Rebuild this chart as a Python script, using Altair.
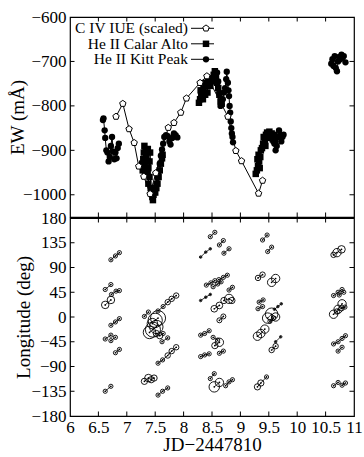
import altair as alt
import pandas as pd

FONT = "Liberation Serif"
W, H1, H2 = 284, 200, 198
TK = 4.5  # inward tick length

# ---------------- top panel data ----------------
civ_jd = [6.81, 6.93, 7.04, 7.13, 7.21, 7.30, 7.41, 7.51, 7.73, 7.83, 7.95, 8.05,
          8.29, 8.41, 8.78, 8.92, 9.02, 9.32, 9.39]
civ_ew = [-824, -795, -852, -883, -936, -959, -998, -951, -849, -838, -815, -783,
          -748, -733, -824, -901, -924, -997, -968]

caA_jd = [7.31, 7.30, 7.33, 7.29, 7.34, 7.31, 7.36, 7.33, 7.38, 7.35, 7.27, 7.28, 7.40,
          7.41, 7.37, 7.40, 7.38, 7.42, 7.44, 7.45, 7.46, 7.47, 7.48, 7.50, 7.52, 7.54,
          7.56, 7.58, 7.60, 7.62, 7.63]
caA_ew = [-890, -905, -900, -920, -915, -935, -925, -945, -940, -950, -930, -945, -925,
          -905, -897, -960, -975, -985, -995, -1005, -1012, -1000, -990, -995, -985, -975,
          -960, -945, -930, -918, -910]
caB_jd = [8.27, 8.29, 8.31, 8.30, 8.33, 8.35, 8.34, 8.37, 8.39, 8.38, 8.41, 8.43, 8.42,
          8.45, 8.47, 8.49, 8.51, 8.53, 8.55, 8.57, 8.59, 8.61, 8.63, 8.65, 8.67]
caB_ew = [-793, -785, -775, -765, -770, -760, -785, -755, -748, -775, -755, -745, -770,
          -740, -755, -745, -738, -730, -722, -735, -748, -760, -775, -790, -795]
caC_jd = [9.27, 9.29, 9.31, 9.30, 9.33, 9.32, 9.35, 9.34, 9.36, 9.38, 9.40, 9.41,
          9.43, 9.45, 9.44, 9.47, 9.49, 9.51, 9.53, 9.55, 9.57, 9.59, 9.61]
caC_ew = [-953, -945, -935, -920, -925, -910, -915, -940, -900, -895, -885, -870,
          -880, -865, -890, -860, -872, -858, -868, -862, -875, -865, -880]

kp1_jd = [6.58, 6.59, 6.61, 6.62, 6.64, 6.66, 6.68, 6.70, 6.72, 6.74, 6.76, 6.78,
          6.80, 6.82, 6.84, 6.86]
kp1_ew = [-832, -828, -855, -872, -900, -905, -925, -915, -890, -870, -903, -920,
          -905, -918, -895, -885]
kp2_jd = [7.52, 7.54, 7.56, 7.58, 7.60, 7.62, 7.64, 7.66, 7.69, 7.72, 7.75, 7.77,
          7.80, 7.83, 7.86, 7.89]
kp2_ew = [-975, -962, -948, -930, -912, -898, -885, -870, -866, -868, -880, -887,
          -872, -862, -866, -871]
kp3_jd = [8.56, 8.59, 8.61, 8.63, 8.65, 8.67, 8.69, 8.71, 8.73, 8.75, 8.76, 8.78,
          8.79, 8.80, 8.81, 8.82, 8.83, 8.84, 8.85, 8.86, 8.87]
kp3_ew = [-735, -725, -745, -770, -800, -798, -785, -770, -760, -740, -723, -748,
          -765, -778, -800, -815, -835, -850, -862, -870, -882]
kp4_jd = [9.56, 9.58, 9.60, 9.62, 9.64, 9.66, 9.68, 9.70, 9.72, 9.74, 9.76]
kp4_ew = [-870, -880, -885, -900, -890, -870, -855, -865, -880, -870, -865]
kp5_jd = [10.60, 10.62, 10.64, 10.66, 10.68, 10.70, 10.72, 10.74, 10.76, 10.78,
          10.80, 10.82, 10.85]
kp5_ew = [-705, -695, -710, -688, -715, -722, -700, -690, -695, -685, -690, -688, -702]

ew_ticks = [-600, -700, -800, -900, -1000]
jd_ticks = [6, 6.5, 7, 7.5, 8, 8.5, 9, 9.5, 10, 10.5, 11]
lon_ticks = [180, 135, 90, 45, 0, -45, -90, -135, -180]
legend_labels = ["C IV IUE (scaled)", "He II Calar Alto", "He II Kitt Peak"]

# ---------------- bottom panel data (spot tracks) ----------------
tracks = [
    ([6.72, 6.80, 6.87], [104, 111, 117], [1, 1, 1]),
    ([6.62, 6.72], [50, 59], [1, 1]),
    ([6.73, 6.81, 6.87], [41, 47, 48], [1, 1, 1]),
    ([6.62, 6.72], [22, 31], [1.8, 1.8]),
    ([6.72, 6.80, 6.87], [-15, -9, -3], [1, 1, 1]),
    ([6.62, 6.72], [-40, -33], [1, 1]),
    ([6.72, 6.80], [-43, -37], [1, 1]),
    ([6.80, 6.87], [-65, -59], [1, 1]),
    ([6.62, 6.72], [-135, -126], [1, 1]),
    ([7.31, 7.38], [1, 9], [1, 1]),
    ([7.55, 7.64, 7.72, 7.79, 7.87], [11, 19, 27, 33, 39], [1, 1, 1.3, 1.3, 1.3]),
    ([7.45, 7.50, 7.55], [-12, -6, -2], [2.5, 3.4, 3.6]),
    ([7.40, 7.46, 7.52], [-28, -23, -18], [3, 3.6, 3.2]),
    ([7.52, 7.58, 7.64], [-30, -34, -30], [1.5, 1.5, 1]),
    ([7.62, 7.72], [-45, -38], [1, 1]),
    ([7.55, 7.63, 7.72, 7.79, 7.87], [-84, -78, -70, -62, -55], [1, 1, 1.3, 1.3, 1.3]),
    ([7.31, 7.38, 7.43, 7.48], [-117, -111, -114, -111], [1.5, 1.8, 1.5, 1.5]),
    ([7.55, 7.63, 7.72], [-142, -135, -129], [1, 1, 1]),
    ([8.30, 8.39, 8.47], [109, 118, 124], [0.6, 0.6, 0.6]),
    ([8.47, 8.55], [146, 154], [1, 1]),
    ([8.63, 8.70], [131, 139], [1, 1]),
    ([8.71, 8.80], [116, 124], [1, 1]),
    ([8.30, 8.39, 8.47], [30, 36, 41], [0.6, 0.6, 0.6]),
    ([8.40, 8.48, 8.55], [58, 62, 66], [1, 1, 1]),
    ([8.52, 8.60, 8.66], [55, 60, 64], [1, 1, 1]),
    ([8.62, 8.70, 8.77], [68, 72, 76], [1, 1, 1]),
    ([8.80, 8.86], [49, 54], [1, 1]),
    ([8.54, 8.63], [15, 21], [1.6, 1.6]),
    ([8.71, 8.80, 8.85], [30, 33, 30], [1.5, 2.2, 1.5]),
    ([8.63, 8.70], [-6, 1], [1.2, 1.2]),
    ([8.30, 8.37, 8.45], [-33, -30, -25], [1, 1, 1]),
    ([8.52, 8.60], [-37, -42], [1, 1]),
    ([8.55, 8.63], [-52, -46], [1.5, 2]),
    ([8.30, 8.37, 8.45], [-72, -69, -67], [1, 1, 1]),
    ([8.63, 8.70], [-66, -62], [1, 1]),
    ([8.47, 8.54], [-112, -103], [1, 1]),
    ([8.54, 8.63], [-127, -119], [2.5, 2]),
    ([8.74, 8.80, 8.86], [-125, -118, -114], [1, 1, 1]),
    ([9.39, 9.47], [140, 149], [1, 1]),
    ([9.48, 9.55], [119, 127], [1, 1]),
    ([9.31, 9.39], [71, 77], [1.3, 1.3]),
    ([9.55, 9.62], [63, 70], [2, 2]),
    ([9.33, 9.40], [27, 31], [1, 1]),
    ([9.31, 9.39], [15, 19], [1, 1]),
    ([9.60, 9.66, 9.72], [14, 19, 24], [0.6, 0.6, 0.6]),
    ([9.48, 9.55, 9.62], [-2, 5, 0], [2.5, 3, 2]),
    ([9.52, 9.58], [-8, -2], [1, 1]),
    ([9.30, 9.36, 9.43], [-35, -30, -22], [2, 2, 2]),
    ([9.55, 9.62], [-60, -53], [1.3, 1.3]),
    ([9.62, 9.71], [-45, -36], [0.6, 0.6]),
    ([9.30, 9.36, 9.46], [-127, -120, -109], [1.5, 1.5, 1]),
    ([10.64, 10.70, 10.78], [113, 117, 123], [1.3, 2, 1.8]),
    ([10.64, 10.72, 10.79], [39, 45, 50], [1, 1, 1]),
    ([10.74, 10.82], [40, 45], [1, 1]),
    ([10.64, 10.72, 10.79], [5, 14, 24], [2, 2, 2]),
    ([10.70, 10.78, 10.84], [10, 16, 18], [1.3, 1.3, 1]),
    ([10.64, 10.72, 10.79, 10.85], [-49, -45, -39, -34], [1, 1, 1, 1]),
    ([10.72, 10.79], [-62, -55], [1, 1]),
    ([10.64, 10.72], [-125, -119], [1, 1]),
    ([10.79, 10.85], [-124, -120], [1, 1]),
]

# ---------------- frames ----------------
civ = pd.DataFrame({"jd": civ_jd, "ew": civ_ew})
ca = pd.concat([
    pd.DataFrame({"jd": caA_jd, "ew": caA_ew, "grp": "A"}),
    pd.DataFrame({"jd": caB_jd, "ew": caB_ew, "grp": "B"}),
    pd.DataFrame({"jd": caC_jd, "ew": caC_ew, "grp": "C"}),
], ignore_index=True)
kp = pd.concat([
    pd.DataFrame({"jd": j, "ew": e, "grp": g})
    for g, (j, e) in enumerate([(kp1_jd, kp1_ew), (kp2_jd, kp2_ew), (kp3_jd, kp3_ew),
                                (kp4_jd, kp4_ew), (kp5_jd, kp5_ew)])
], ignore_index=True)
rows = []
for i, (j, l, s) in enumerate(tracks):
    for a, b, c in zip(j, l, s):
        rows.append({"id": i, "jd": a, "lon": b, "sz": c})
trk = pd.DataFrame(rows)

xs = alt.Scale(domain=[6, 11], nice=False, zero=False)
ys_top = alt.Scale(domain=[-1050, -600], nice=False, zero=False)
ys_bot = alt.Scale(domain=[-180, 180], nice=False, zero=False)

common = dict(labelFont=FONT, titleFont=FONT, labelFontSize=17, titleFontSize=19,
              labelColor="black", titleColor="black", titleFontWeight="normal",
              ticks=False, domain=False, grid=False, labelOverlap=False, labelFlush=False)
axis_top_y = alt.Axis(values=ew_ticks, title="EW (mÅ)", format="d", labelPadding=4,
                      titleX=-47, titleBaseline="alphabetic", **common)
axis_bot_y = alt.Axis(values=lon_ticks, title="Longitude (deg)", format="d", labelPadding=4,
                      titleX=-40.5, titleBaseline="alphabetic", **common)
axis_bot_x = alt.Axis(values=jd_ticks, title="JD\u22122447810", format="~g", labelPadding=3,
                      titleY=34, titleBaseline="alphabetic", **common)

tick_x_df = pd.DataFrame({"t": jd_ticks[1:-1]})


def frame_ticks(yfield, yscale, yaxis, yvals, height, xaxis):
    ydf = pd.DataFrame({yfield: yvals})
    Xt = alt.X("t:Q", scale=xs, axis=xaxis)
    Yt = alt.Y(f"{yfield}:Q", scale=yscale, axis=yaxis)
    return [
        alt.Chart(tick_x_df).mark_rule(color="black", strokeWidth=1).encode(
            x=Xt, y=alt.value(0), y2=alt.value(TK)),
        alt.Chart(tick_x_df).mark_rule(color="black", strokeWidth=1).encode(
            x=Xt, y=alt.value(height - TK), y2=alt.value(height)),
        alt.Chart(ydf).mark_rule(color="black", strokeWidth=1).encode(
            y=Yt, x=alt.value(W - TK), x2=alt.value(W)),
        alt.Chart(ydf).mark_rule(color="black", strokeWidth=1).encode(
            y=Yt, x=alt.value(0), x2=alt.value(TK)),
    ]


X_top = alt.X("jd:Q", scale=xs, axis=None)
Y_top = alt.Y("ew:Q", scale=ys_top, axis=axis_top_y)

ca_line = alt.Chart(ca).mark_line(color="black", strokeWidth=1).encode(x=X_top, y=Y_top, detail="grp:N")
ca_pts = alt.Chart(ca).mark_square(color="black", size=42, opacity=1).encode(x=X_top, y=Y_top)
kp_line = alt.Chart(kp).mark_line(color="black", strokeWidth=1).encode(x=X_top, y=Y_top, detail="grp:N")
kp_pts = alt.Chart(kp).mark_circle(color="black", size=40, opacity=1).encode(x=X_top, y=Y_top)
PENT = "M0,-1L0.951,-0.309L0.588,0.809L-0.588,0.809L-0.951,-0.309Z"
civ_line = alt.Chart(civ).mark_line(color="black", strokeWidth=1).encode(x=X_top, y=Y_top)
civ_pts = alt.Chart(civ).mark_point(shape=PENT, filled=True, fill="white", stroke="black",
                                     strokeWidth=1, size=45, opacity=1).encode(x=X_top, y=Y_top)

leg_layers = []
leg_y = [11.3, 26.8, 42.3]
leg_marks = [
    alt.MarkDef(type="point", shape=PENT, filled=True, fill="white", stroke="black", strokeWidth=1, size=45, opacity=1),
    alt.MarkDef(type="square", color="black", size=42, opacity=1),
    alt.MarkDef(type="circle", color="black", size=40, opacity=1),
]
for lab, yy, mk in zip(legend_labels, leg_y, leg_marks):
    d = pd.DataFrame({"label": [lab]})
    leg_layers.append(alt.Chart(d).mark_text(font=FONT, fontSize=15.5, align="right", baseline="middle",
                                             color="black").encode(text="label:N", x=alt.value(118), y=alt.value(yy)))
    leg_layers.append(alt.Chart(d).mark_rule(color="black", strokeWidth=1).encode(
        x=alt.value(121), x2=alt.value(144), y=alt.value(yy)))
    leg_layers.append(alt.Chart(d, mark=mk).encode(x=alt.value(136), y=alt.value(yy)))

top = alt.layer(ca_line, ca_pts, kp_line, kp_pts, civ_line, civ_pts,
                *frame_ticks("ew", ys_top, axis_top_y, ew_ticks[1:], H1, None),
                *leg_layers).properties(width=W, height=H1)

# ---------------- bottom panel ----------------
X_bot = alt.X("jd:Q", scale=xs, axis=axis_bot_x)
Y_bot = alt.Y("lon:Q", scale=ys_bot, axis=axis_bot_y)
trk_line = alt.Chart(trk).mark_line(color="black", strokeWidth=0.8).encode(x=X_bot, y=Y_bot, detail="id:N")
trk_circ = alt.Chart(trk).mark_point(shape="circle", filled=False, stroke="black", strokeWidth=0.9,
                                     opacity=1).encode(
    x=X_bot, y=Y_bot,
    size=alt.Size("sz:Q", scale=alt.Scale(type="pow", exponent=2, domain=[0, 4], range=[0, 280]), legend=None))
trk_dot = alt.Chart(trk).mark_circle(color="black", size=3, opacity=1).encode(x=X_bot, y=Y_bot)
bottom = alt.layer(trk_line, trk_circ, trk_dot,
                   *frame_ticks("lon", ys_bot, axis_bot_y, lon_ticks[1:-1], H2, axis_bot_x)
                   ).properties(width=W, height=H2)

chart = alt.vconcat(top, bottom, spacing=1, bounds="flush").properties(
    padding={"left": 7, "top": 7, "right": 0, "bottom": 0}
).configure_view(stroke="black", strokeWidth=1.2)

chart.save("out.html", embed_options={"renderer": "svg", "actions": False})
